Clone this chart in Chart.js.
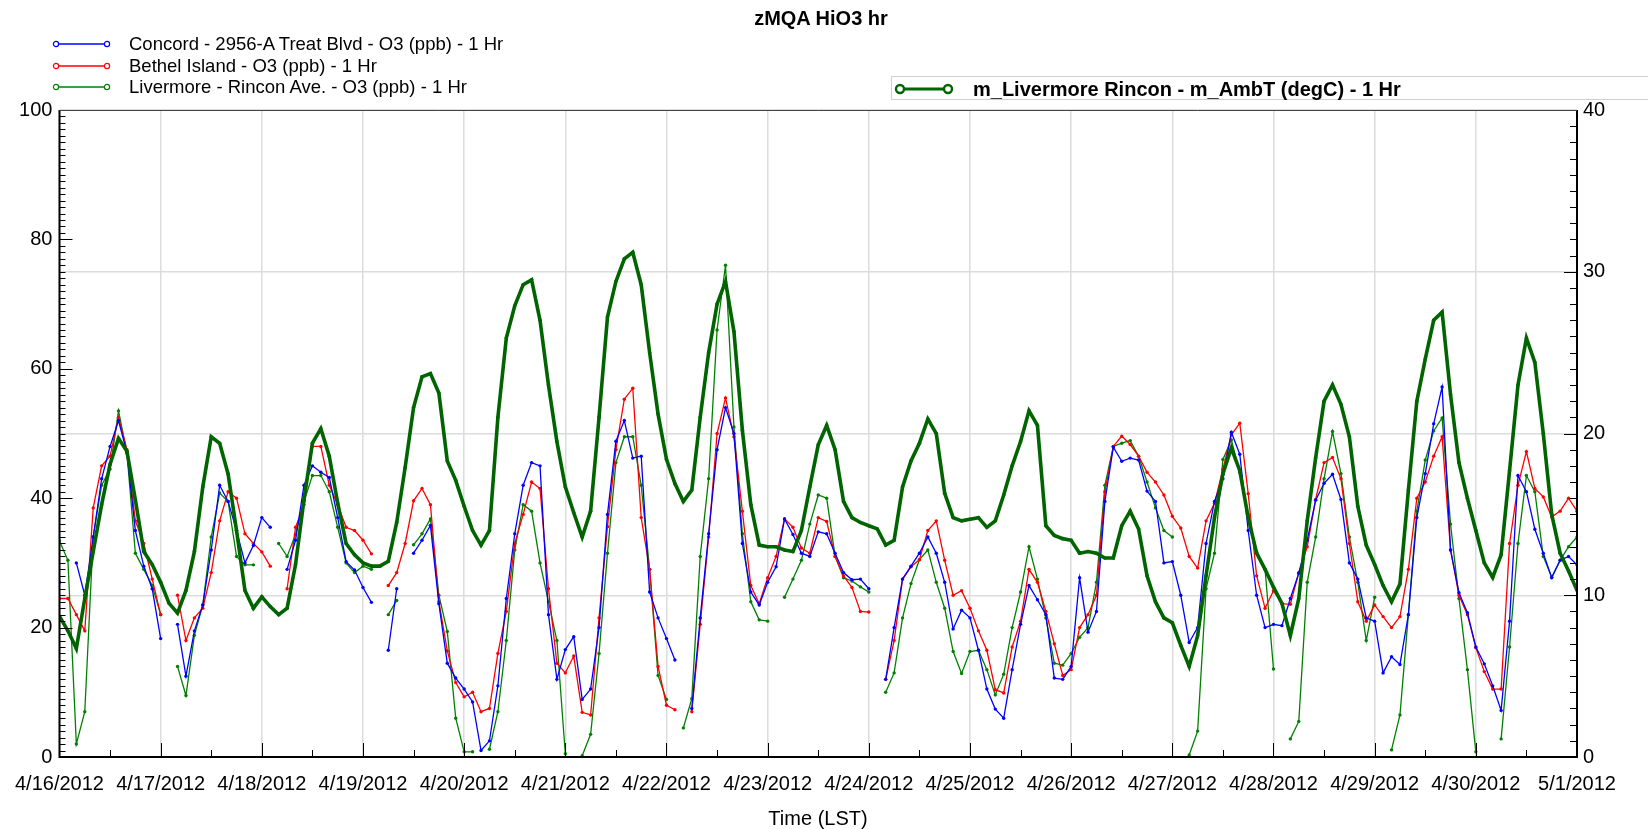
<!DOCTYPE html>
<html><head><meta charset="utf-8">
<script src="https://cdn.jsdelivr.net/npm/chart.js@4.4.0/dist/chart.umd.min.js"></script>
<style>
html,body{margin:0;padding:0;background:#fff;}
#wrap{position:relative;width:1648px;height:829px;overflow:hidden;font-family:"Liberation Sans",Arial,sans-serif;color:#000;}
#c{position:absolute;left:0;top:0;}
.t{position:absolute;white-space:nowrap;line-height:1;}
.lg{position:absolute;left:52px;width:60px;height:12px;}
</style></head><body>
<div id="wrap">
<canvas id="c" width="1648" height="829"></canvas>
<div class="t" style="left:821px;top:18px;transform:translate(-50%,-50%);font-weight:bold;font-size:20px;">zMQA HiO3 hr</div>

<svg class="lg" style="top:38px" viewBox="0 0 60 12"><line x1="4" y1="6" x2="55" y2="6" stroke="#0000ff" stroke-width="1.5"/><circle cx="4" cy="6" r="2.6" fill="#fff" stroke="#0000ff" stroke-width="1.2"/><circle cx="55" cy="6" r="2.6" fill="#fff" stroke="#0000ff" stroke-width="1.2"/></svg>
<div class="t" style="left:129px;top:44px;transform:translateY(-50%);font-size:18.5px;">Concord - 2956-A Treat Blvd - O3 (ppb) - 1 Hr</div>
<svg class="lg" style="top:60px" viewBox="0 0 60 12"><line x1="4" y1="6" x2="55" y2="6" stroke="#ff0000" stroke-width="1.5"/><circle cx="4" cy="6" r="2.6" fill="#fff" stroke="#ff0000" stroke-width="1.2"/><circle cx="55" cy="6" r="2.6" fill="#fff" stroke="#ff0000" stroke-width="1.2"/></svg>
<div class="t" style="left:129px;top:66px;transform:translateY(-50%);font-size:18.5px;">Bethel Island - O3 (ppb) - 1 Hr</div>
<svg class="lg" style="top:81px" viewBox="0 0 60 12"><line x1="4" y1="6" x2="55" y2="6" stroke="#008000" stroke-width="1.5"/><circle cx="4" cy="6" r="2.6" fill="#fff" stroke="#008000" stroke-width="1.2"/><circle cx="55" cy="6" r="2.6" fill="#fff" stroke="#008000" stroke-width="1.2"/></svg>
<div class="t" style="left:129px;top:87px;transform:translateY(-50%);font-size:18.5px;">Livermore - Rincon Ave. - O3 (ppb) - 1 Hr</div>

<div style="position:absolute;left:891px;top:76px;width:770px;height:24px;border:1px solid #cfcfcf;box-sizing:border-box;"></div>
<svg style="position:absolute;left:893px;top:81px;width:62px;height:16px" viewBox="0 0 62 16"><line x1="7" y1="8" x2="55" y2="8" stroke="#006400" stroke-width="2.8"/><circle cx="7" cy="8" r="4" fill="#fff" stroke="#006400" stroke-width="2.4"/><circle cx="55" cy="8" r="4" fill="#fff" stroke="#006400" stroke-width="2.4"/></svg>
<div class="t" style="left:973px;top:89px;transform:translateY(-50%);font-weight:bold;font-size:20px;">m_Livermore Rincon - m_AmbT (degC) - 1 Hr</div>

<div class="t" style="left:818px;top:818px;transform:translate(-50%,-50%);font-size:20px;">Time (LST)</div>
</div>
<script>
// Date labels on the time axis (one per day, 4/16/2012 .. 5/1/2012)
const dateLabels = ["4/16/2012","4/17/2012","4/18/2012","4/19/2012","4/20/2012","4/21/2012","4/22/2012","4/23/2012","4/24/2012","4/25/2012","4/26/2012","4/27/2012","4/28/2012","4/29/2012","4/30/2012","5/1/2012"];

// Readings every 2 hours from 4/16/2012 00:00 (hour 0) to 5/1/2012 00:00 (hour 360); null = missing
const concordO3 = [
 27,null,30,25,34,43,48,52,47,35,29.5,26,
 18.3,null,20.5,12.5,19.5,23.5,32,42,39.5,35,30,32.7,
 37,35.5,null,29,33.5,42,45,44,43.2,37,30.2,28.9,
 26.2,23.9,null,16.5,26,null,31.5,33.5,35.8,23.7,14.5,12.2,
 10.5,8.5,1.0,2.5,11,24.5,34.5,42,45.5,45,22,12,
 16.6,18.6,8.9,10.5,20,37.5,48.8,52,46.2,46.5,25.5,21.5,
 18.3,15,null,7.5,21.5,34.5,47.5,54,50,33,25.5,23.5,
 27,29.4,36.8,34.4,31.5,31,34.8,34.5,31.5,28.5,27.4,27.5,
 26,null,12,20,27.5,29.5,31.5,34,31.5,27,19.8,22.7,
 21.5,16.5,10.5,7.4,6,13.5,20.5,26.5,24.3,22,12.2,12,
 14,27.7,19.3,22.5,39.5,47.9,45.7,46.2,45.9,41.1,39.5,30,
 30.2,25,17.7,20,33,39.5,43,50.2,46.8,35,25,20,
 20.5,20.3,24.5,28.4,33.5,39.7,42.3,43.7,39.8,30,27.5,21.5,
 21,13,15.5,14.3,22,37,43.8,51.5,57.2,32,25.4,22.3,
 17,14.4,11,7.2,21,43.5,41,35.2,31.5,27.7,30.4,31,
 29.7];

const bethelO3 = [
 24.5,24.5,22,19.5,38.5,45,46.5,52.5,47.5,36.5,33,27.5,
 22,null,25,18,21.5,23,28.5,36.5,41,40,34.5,33,
 31.7,29.5,null,26,35.5,39,48,48,42,39,35.5,35,
 33.5,31.4,null,26.5,28.5,33,39.6,41.5,39,24,16.4,11.5,
 9.3,10,7,7.5,16,22.5,33,37.5,42.5,41.5,26,14.5,
 13,15.6,6.9,6.5,21.5,35.6,47.5,55.3,57,37,29,14,
 8,7.3,null,7,20.5,34,50,55.5,49.5,38,26.5,23.7,
 27.7,31,36.8,35.5,32.3,31.5,37,36.4,31,28,26.2,22.5,
 22.4,null,12,18,27.5,29.4,30.5,35,36.5,30.4,25,25.7,
 23,19.5,16.5,10.4,9.9,17,21,29,27,22.5,17.5,12.6,
 13.5,20,22,25,41,48,49.6,48.3,46.5,44,42.5,40.5,
 37.2,35.4,31,29.2,36.5,39.2,44.5,49.8,51.6,40.7,28,23,
 25.7,23.7,23.6,28.5,32.5,39.8,45.5,46.3,43,33,24,21,
 23.5,21.7,20,21.7,29,40,42.5,46.5,49.5,32,25,22,
 16.9,13.2,10.5,10.5,33,42,47.2,41.5,40.2,37.1,38,40,
 38];

const livermoreO3 = [
 33.4,30.4,2,7,34,42,44.5,53.5,47,31.5,29,26.5,
 22,null,14,9.5,18.8,23.5,34,40.8,39.5,31,29.7,29.7,
 null,null,33,31,34.4,39.5,43.5,43.5,41,35.5,30,28.5,
 29.5,29,null,22,24.2,null,32.8,34.5,36.8,25,19.4,6,
 0.8,0.8,null,1.2,7,18,32,39,38,30,24,18,
 0.5,null,0.2,3.5,16,31.5,45.5,49.5,49.5,42,29,12.6,
 8.9,null,4.5,9,31,43,66,76,51,34.5,24,21.2,
 21,null,24.7,27.5,30.4,36,40.5,40,31,27.7,27.2,26.3,
 25.5,null,10,13,21.5,26.8,30.5,32,27,23,16.3,12.9,
 16.3,16.5,13.5,9.6,12.8,20,25.5,32.5,27.5,21.5,14.5,14.2,
 16,18.5,20,27,42,48,48.5,48.9,46.5,42.5,38.5,35,
 34,null,0.3,4,26,31.5,46,49,44,37.5,31.7,29,
 13.6,null,2.8,5.5,27,34,43,50.3,43.8,34,27,18,
 24.7,null,1.1,6.5,22,38,45.9,50.4,52.4,36,24.5,13.5,
 0.8,null,null,2.8,17,33,43.5,41,31,27.8,30.4,32.5,
 34];

const livermoreTemp = [
 8.7,7.8,6.7,9.8,12.7,15.6,18.1,19.7,18.9,15.9,12.7,11.9,
 10.8,9.5,8.9,10.3,12.7,16.7,19.8,19.4,17.5,14.0,10.3,9.2,
 9.9,9.3,8.8,9.2,11.9,15.9,19.4,20.3,18.6,15.7,13.2,12.5,
 12.0,11.8,11.8,12.1,14.5,17.9,21.6,23.5,23.7,22.5,18.3,17.1,
 15.5,14.0,13.1,14.0,21,25.9,27.9,29.2,29.5,27,23,19.5,
 16.7,15.1,13.6,15.2,21,27.2,29.4,30.8,31.2,29.2,25,21.2,
 18.4,16.9,15.8,16.5,21,25,28,29.4,26.3,20.2,15.6,13.1,
 13,13,12.8,12.7,14,16.7,19.3,20.5,19.0,15.8,14.8,14.5,
 14.3,14.1,13.1,13.4,16.7,18.3,19.4,20.9,20,16.3,14.8,14.6,
 14.7,14.8,14.2,14.6,16.2,18,19.5,21.4,20.5,14.3,13.7,13.5,
 13.4,12.6,12.7,12.6,12.3,12.3,14.3,15.2,14.1,11.2,9.6,8.6,
 8.3,6.9,5.6,7.5,11.2,14.8,17.5,19.1,17.7,14.8,12.6,11.6,
 10.5,9.5,7.5,9.8,14.6,18.5,22,23,21.8,19.8,15.5,13.1,
 11.9,10.6,9.6,10.7,16.5,22,24.6,27,27.5,22.4,18.2,16,
 14,12,11.1,12.5,17.7,23,25.9,24.4,20,15,12.6,11.5,
 10.3];

const STEP_HOURS = 2;
const FONT = '"Liberation Sans", Arial, sans-serif';

function pts(arr){ return arr.map((v,i)=>({x:i*STEP_HOURS, y:v})); }

const frameTicks = {
  id:'frameTicks',
  afterDatasetsDraw(chart){
    const {ctx, chartArea:a, scales} = chart;
    const yl = scales.yL, yr = scales.yR, x = scales.x;
    ctx.save();
    ctx.strokeStyle = '#000';
    ctx.lineWidth = 1;
    ctx.beginPath();
    for (let v = 0; v <= 100; v += 1){
      const p = Math.round(yl.getPixelForValue(v)) + 0.5;
      const len = (v % 20 === 0) ? 13 : 6;
      ctx.moveTo(a.left, p); ctx.lineTo(a.left + len, p);
    }
    for (let v = 0; v <= 40; v += 1){
      const p = Math.round(yr.getPixelForValue(v)) + 0.5;
      const len = (v % 10 === 0) ? 13 : 7;
      ctx.moveTo(a.right, p); ctx.lineTo(a.right - len, p);
    }
    for (let h = 0; h <= 360; h += 12){
      const p = Math.round(x.getPixelForValue(h)) + 0.5;
      const len = (h % 24 === 0) ? 14 : 7;
      ctx.moveTo(p, a.bottom); ctx.lineTo(p, a.bottom - len);
    }
    ctx.stroke();
    ctx.lineWidth = 2;
    ctx.beginPath();
    ctx.moveTo(a.left, a.top); ctx.lineTo(a.left, a.bottom);
    ctx.lineTo(a.right, a.bottom); ctx.lineTo(a.right, a.top);
    ctx.stroke();
    ctx.lineWidth = 1;
    ctx.strokeStyle = '#444';
    ctx.beginPath();
    ctx.moveTo(a.left, a.top + 0.5); ctx.lineTo(a.right, a.top + 0.5);
    ctx.stroke();
    ctx.restore();
  }
};

const ozoneStyle = (c) => ({borderColor:c, backgroundColor:c, pointBackgroundColor:c, pointBorderColor:c,
  borderWidth:1.3, pointRadius:1.7, pointBorderWidth:0, yAxisID:'yL', order:1, spanGaps:false, tension:0});

new Chart(document.getElementById('c'), {
  type:'line',
  data:{
    datasets:[
      Object.assign({label:'m_Livermore Rincon - m_AmbT (degC) - 1 Hr', data:pts(livermoreTemp)},
        {borderColor:'#006400', backgroundColor:'#006400', pointBackgroundColor:'#006400', pointBorderColor:'#006400',
         borderWidth:3.6, pointRadius:1.8, pointBorderWidth:0, yAxisID:'yR', order:0, tension:0}),
      Object.assign({label:'Concord - 2956-A Treat Blvd - O3 (ppb) - 1 Hr', data:pts(concordO3)}, ozoneStyle('#0000ff')),
      Object.assign({label:'Bethel Island - O3 (ppb) - 1 Hr', data:pts(bethelO3)}, ozoneStyle('#ff0000')),
      Object.assign({label:'Livermore - Rincon Ave. - O3 (ppb) - 1 Hr', data:pts(livermoreO3)}, ozoneStyle('#008000'))
    ]
  },
  options:{
    responsive:false, maintainAspectRatio:false, animation:false, devicePixelRatio:1,
    events:[],
    layout:{padding:{top:110,left:0,right:0,bottom:0}, autoPadding:false},
    plugins:{legend:{display:false}, title:{display:false}, tooltip:{enabled:false}},
    scales:{
      x:{type:'linear', min:0, max:(dateLabels.length-1)*24,
        afterBuildTicks:(s)=>{ s.ticks = dateLabels.map((_,i)=>({value:i*24})); },
        afterFit:(s)=>{ s.height = 72; },
        grid:{color:'#dcdcdc', lineWidth:1.5, drawTicks:false},
        border:{display:false},
        ticks:{callback:(v)=>dateLabels[Math.round(v/24)], font:{size:20, family:FONT}, color:'#000', padding:15, maxRotation:0, minRotation:0, autoSkip:false}
      },
      yL:{type:'linear', position:'left', min:0, max:100,
        afterFit:(s)=>{ s.width = 58; },
        grid:{display:false, drawTicks:false}, border:{display:false},
        ticks:{stepSize:20, font:{size:20, family:FONT}, color:'#000', padding:7}
      },
      yR:{type:'linear', position:'right', min:0, max:40,
        afterFit:(s)=>{ s.width = 71; },
        grid:{color:'#dcdcdc', lineWidth:1.5, drawTicks:false}, border:{display:false},
        ticks:{stepSize:10, font:{size:20, family:FONT}, color:'#000', padding:6}
      }
    }
  },
  plugins:[frameTicks]
});
</script>
</body></html>
